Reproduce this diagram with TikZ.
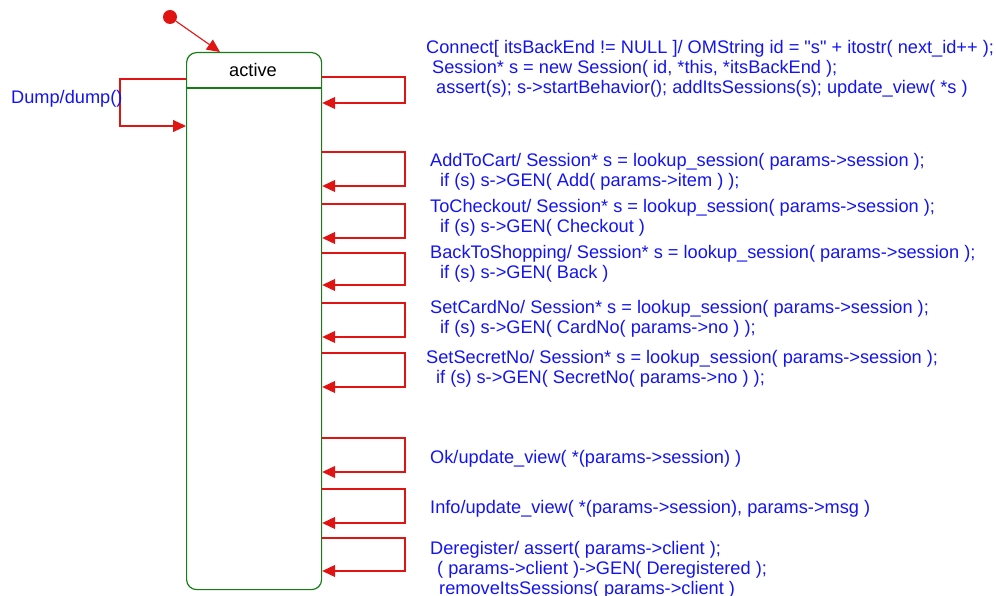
\documentclass[tikz,border=0pt]{standalone}
\usepackage{fontspec}
\setmainfont[Ligatures=TeXOff]{Liberation Sans}
\usetikzlibrary{arrows.meta}
\definecolor{stgreen}{RGB}{20,125,20}
\definecolor{trred}{RGB}{225,20,20}
\definecolor{lblblue}{RGB}{20,20,240}
\tikzset{
  trans/.style={draw=trred, line width=1.1pt, -{Triangle[length=13pt,width=12pt]}},
  lbl/.style={text=lblblue, anchor=west, inner sep=0pt, align=left, font=\fontsize{18.2}{20}\selectfont},
  statebox/.style={draw=stgreen, line width=1.2pt, rounded corners=10pt, inner sep=0pt},
}
\begin{document}
\begin{tikzpicture}[x=1pt,y=-1pt]
\useasboundingbox (0,0) rectangle (996,596);
% state
\node[statebox, minimum width=135pt, minimum height=537pt, anchor=north west] (active) at (186,52) {};
\node[font=\fontsize{18.2}{20}\selectfont, inner sep=0pt] (name) at (253,70) {active};
\draw[stgreen, line width=1.2pt] (active.west |- 0,88) -- (active.east |- 0,88);
% initial
\node[circle, fill=trred, minimum size=14pt, inner sep=0pt] (init) at (170,17) {};
\draw[trans] (init) -- ([xshift=34pt]active.north west);
% Dump loop
\draw[trans] (active.west |- 0,79) -- (120,79) -- (120,126) -- (active.west |- 0,126);
\node[lbl] (dump) at (11,99) {Dump/dump()};
% right loops
\foreach \t/\b in {77/103,152/186,204/238,253/285,303/337,353/387,438/472,489/523,538/571}{
  \draw[trans] (active.east |- 0,\t) -- (405,\t) -- (405,\b) -- (active.east |- 0,\b);
}
% labels
\node[lbl] (l1) at (426,69) {Connect[ itsBackEnd != NULL ]/ OMString id = "s" + itostr( next\_id++ );\\
\hspace*{6pt}Session* s = new Session( id, *this, *itsBackEnd );\\
\hspace*{10pt}assert(s); s->startBehavior(); addItsSessions(s); update\_view( *s )};
\node[lbl] (l2) at (430,172) {AddToCart/ Session* s = lookup\_session( params->session );\\
\hspace*{10pt}if (s) s->GEN( Add( params->item ) );};
\node[lbl] (l3) at (430,218) {ToCheckout/ Session* s = lookup\_session( params->session );\\
\hspace*{10pt}if (s) s->GEN( Checkout )};
\node[lbl] (l4) at (430,264) {BackToShopping/ Session* s = lookup\_session( params->session );\\
\hspace*{10pt}if (s) s->GEN( Back )};
\node[lbl] (l5) at (430,319) {SetCardNo/ Session* s = lookup\_session( params->session );\\
\hspace*{10pt}if (s) s->GEN( CardNo( params->no ) );};
\node[lbl] (l6) at (426,369) {SetSecretNo/ Session* s = lookup\_session( params->session );\\
\hspace*{10pt}if (s) s->GEN( SecretNo( params->no ) );};
\node[lbl] (l7) at (430,459) {Ok/update\_view( *(params->session) )};
\node[lbl] (l8) at (430,509) {Info/update\_view( *(params->session), params->msg )};
\node[lbl] (l9) at (430,570) {Deregister/ assert( params->client );\\
\hspace*{7pt}( params->client )->GEN( Deregistered );\\
\hspace*{9pt}removeItsSessions( params->client )};
\end{tikzpicture}
\end{document}
